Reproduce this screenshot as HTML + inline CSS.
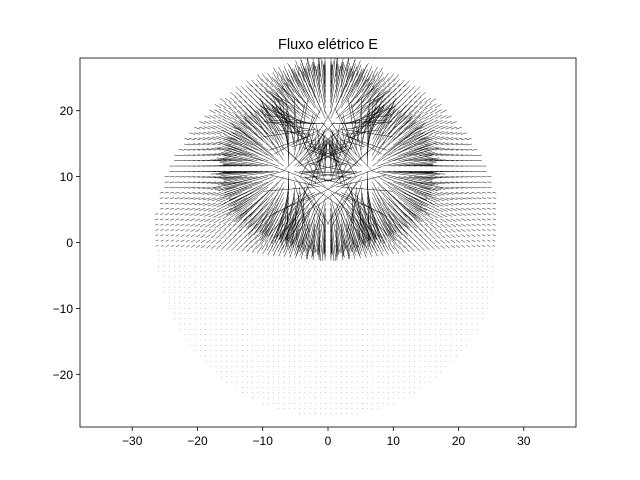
<!DOCTYPE html>
<html><head><meta charset="utf-8"><style>
body{margin:0;background:#fff;}
svg{display:block;font-family:"Liberation Sans",sans-serif;}
</style></head><body>
<svg id="c" width="640" height="480">
<defs><clipPath id="clip"><rect x="80" y="58" width="496" height="369"/></clipPath></defs>
<rect x="0" y="0" width="640" height="480" fill="#fff"/>
<g id="plot" clip-path="url(#clip)"></g>
<rect x="80" y="58" width="496" height="369" fill="none" stroke="#000" stroke-width="0.8"/>
<g id="axes"></g>
<text x="328" y="49" text-anchor="middle" font-size="14.5">Fluxo elétrico E</text>
</svg>
<script>
const chargeX=[-6,6,0,0];
const chargeY=[11,11,18,8];
const chargeQ=[1,1,0.6,0.6];
const xTicks=[-30,-20,-10,0,10,20,30];
const yTicks=[-20,-10,0,10,20];
const xMin=-38,xMax=38,yMin=-28,yMax=28;
const L=80,R=576,T=58,B=427;
const sx=v=>L+(v-xMin)/(xMax-xMin)*(R-L);
const sy=v=>B-(v-yMin)/(yMax-yMin)*(B-T);
const ns="http://www.w3.org/2000/svg";
const plot=document.getElementById('plot'),axes=document.getElementById('axes');
let arrows="",dots="";
const step=0.8;
for(let gx=-26;gx<=26;gx+=step){for(let gy=-26;gy<=27;gy+=step){
 if(gx*gx+gy*gy>26.5*26.5)continue;
 if(gy<-0.5){dots+=`M${sx(gx).toFixed(1)} ${sy(gy).toFixed(1)}h0.8`;continue;}
 let ex=0,ey=0;
 for(let i=0;i<chargeX.length;i++){const dx=gx-chargeX[i],dy=gy-chargeY[i];const r2=dx*dx+dy*dy+0.3;const r=Math.sqrt(r2);ex+=chargeQ[i]*dx/(r2*r);ey+=chargeQ[i]*dy/(r2*r);}
 let m=Math.hypot(ex,ey);if(m===0)continue;
 let len=Math.min(110*m,8);
 const ux=ex/m,uy=ey/m;
 const x1=sx(gx),y1=sy(gy),x2=sx(gx+ux*len),y2=sy(gy+uy*len);
 arrows+=`M${x1.toFixed(1)} ${y1.toFixed(1)}L${x2.toFixed(1)} ${y2.toFixed(1)}`;
}}
const pd=document.createElementNS(ns,'path');pd.setAttribute('d',dots);pd.setAttribute('stroke','#aaa');pd.setAttribute('stroke-width','0.8');


plot.appendChild(pd);
const pa=document.createElementNS(ns,'path');pa.setAttribute('d',arrows);pa.setAttribute('stroke','#000');pa.setAttribute('stroke-width','0.45');pa.setAttribute('fill','none');


plot.appendChild(pa);
xTicks.forEach(t=>{const x=sx(t);
 const l=document.createElementNS(ns,'line');l.setAttribute('x1',x);l.setAttribute('x2',x);l.setAttribute('y1',B);l.setAttribute('y2',B+4);l.setAttribute('stroke','#000');l.setAttribute('stroke-width','0.8');
 
 
 axes.appendChild(l);
 const tx=document.createElementNS(ns,'text');tx.setAttribute('x',x);tx.setAttribute('y',B+18);tx.setAttribute('text-anchor','middle');tx.setAttribute('font-size','12');tx.textContent=(t<0?'\u2212'+(-t):t);
 
 
 axes.appendChild(tx);});
yTicks.forEach(t=>{const y=sy(t);
 const l=document.createElementNS(ns,'line');l.setAttribute('x1',L-4);l.setAttribute('x2',L);l.setAttribute('y1',y);l.setAttribute('y2',y);l.setAttribute('stroke','#000');l.setAttribute('stroke-width','0.8');
 
 
 axes.appendChild(l);
 const tx=document.createElementNS(ns,'text');tx.setAttribute('x',L-7);tx.setAttribute('y',y+4.5);tx.setAttribute('text-anchor','end');tx.setAttribute('font-size','12');tx.textContent=(t<0?'\u2212'+(-t):t);
 
 
 axes.appendChild(tx);});
</script>
</body></html>
